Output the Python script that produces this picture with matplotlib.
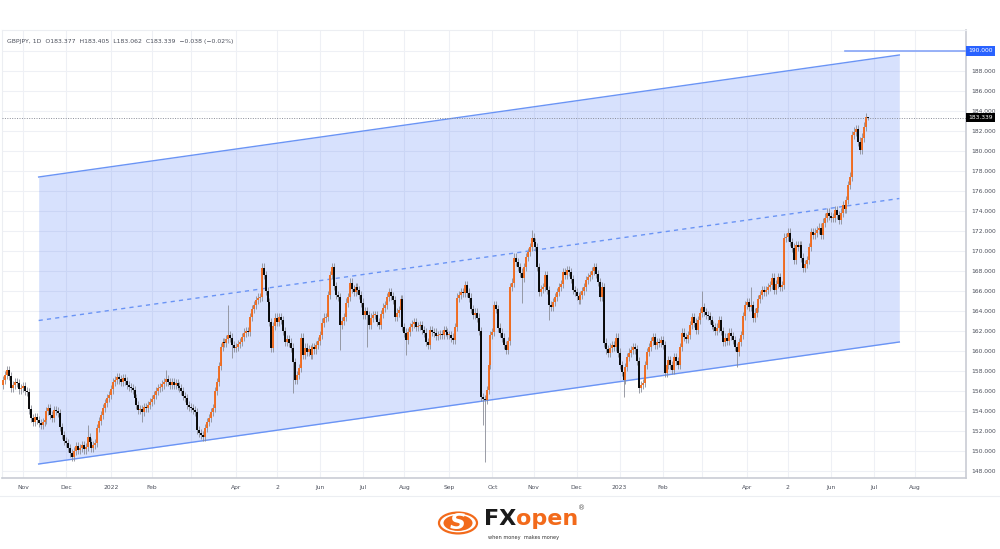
import numpy as np
import pandas as pd
import matplotlib
matplotlib.use("Agg")
import matplotlib.pyplot as plt
from matplotlib.patches import Circle

# Données (GBPJPY, bougies journalières)
first_day = "2021-10-18"
first_open = 156.6
closes = [
    157.1, 157.6, 158.1, 157.5, 156.3, 156.6, 156.9, 156.8, 156.2, 156.3,
    156.5, 156.0, 155.9, 154.2, 153.3, 152.9, 153.4, 153.1, 152.8, 152.6,
    152.9, 153.1, 154.0, 154.3, 153.6, 153.3, 154.1, 154.0, 153.8, 152.4,
    151.6, 151.0, 150.8, 150.3, 149.8, 149.4, 150.0, 150.5, 150.1, 150.3,
    150.6, 150.2, 150.4, 151.4, 150.9, 150.3, 150.6, 150.8, 152.3, 153.0,
    153.6, 154.3, 154.8, 155.3, 155.6, 156.2, 156.9, 157.1, 157.4, 157.2,
    156.9, 157.3, 157.0, 156.6, 156.4, 156.3, 156.1, 155.3, 154.6, 154.1,
    154.2, 153.9, 154.4, 154.3, 154.6, 154.9, 155.2, 155.6, 156.0, 156.3,
    156.4, 156.7, 156.9, 157.2, 156.9, 156.6, 156.9, 156.6, 156.8, 156.5,
    156.3, 156.0, 155.5, 155.3, 154.6, 154.4, 154.3, 154.1, 153.9, 152.1,
    151.8, 151.6, 151.4, 152.3, 152.9, 153.3, 153.9, 154.3, 156.0, 156.9,
    158.5, 160.4, 160.9, 160.8, 161.2, 161.6, 161.3, 160.6, 160.3, 160.4,
    160.7, 160.9, 161.4, 161.8, 162.0, 161.9, 163.4, 164.2, 164.6, 165.1,
    165.3, 165.4, 168.3, 167.6, 166.0, 164.9, 162.9, 160.3, 162.5, 163.3,
    162.9, 163.4, 163.1, 162.0, 160.9, 161.2, 160.8, 160.3, 158.9, 157.1,
    157.6, 158.3, 161.3, 159.6, 160.3, 159.9, 160.2, 159.6, 160.4, 160.2,
    160.6, 161.0, 161.6, 162.8, 163.3, 163.4, 165.6, 167.6, 168.4, 166.5,
    165.6, 165.4, 162.6, 163.0, 163.4, 164.8, 165.4, 166.8, 166.2, 165.9,
    166.4, 166.1, 165.6, 164.8, 163.6, 164.0, 163.6, 162.6, 163.3, 163.6,
    163.6, 162.9, 162.6, 163.7, 164.3, 164.6, 165.4, 165.9, 165.5, 165.1,
    163.4, 163.8, 164.1, 165.2, 162.4, 161.8, 161.1, 161.9, 162.4, 162.7,
    162.9, 162.4, 162.5, 162.6, 162.1, 161.8, 160.9, 160.6, 162.1, 161.9,
    161.8, 161.5, 161.6, 161.7, 161.6, 162.1, 161.9, 161.6, 161.6, 161.3,
    161.1, 162.4, 165.3, 165.6, 165.9, 165.8, 166.6, 165.8, 165.3, 164.2,
    163.6, 163.8, 163.3, 162.0, 155.4, 155.2, 155.1, 156.1, 158.6, 161.6,
    161.9, 164.6, 164.2, 162.3, 161.8, 161.3, 160.6, 160.1, 161.0, 166.4,
    166.8, 169.3, 168.9, 168.4, 167.8, 167.3, 168.4, 169.4, 169.9, 170.4,
    171.3, 170.9, 170.4, 168.4, 165.9, 166.2, 166.4, 167.6, 166.1, 164.6,
    164.4, 164.9, 165.4, 165.9, 166.4, 166.7, 167.9, 167.6, 168.1, 167.9,
    167.2, 166.1, 165.9, 165.5, 165.1, 165.6, 166.0, 166.4, 167.1, 167.4,
    167.6, 168.0, 168.4, 167.7, 166.9, 165.4, 166.4, 160.8, 160.2, 159.8,
    160.3, 160.6, 160.4, 161.3, 159.8, 158.6, 157.9, 157.1, 158.4, 159.4,
    159.8, 160.1, 160.4, 160.2, 159.0, 156.3, 156.6, 156.8, 158.6, 159.9,
    160.4, 161.0, 161.4, 160.6, 160.9, 160.8, 161.1, 160.6, 157.8, 158.6,
    159.1, 158.6, 158.1, 159.4, 159.0, 158.6, 160.4, 161.8, 161.4, 161.2,
    161.6, 162.6, 163.4, 162.8, 162.1, 163.1, 163.8, 164.4, 163.9, 163.6,
    163.5, 163.1, 162.6, 162.4, 162.0, 162.3, 163.1, 162.0, 160.9, 161.3,
    161.0, 161.8, 161.5, 161.1, 160.4, 159.9, 160.9, 161.6, 163.5, 164.6,
    164.9, 164.4, 164.6, 163.3, 163.8, 164.3, 165.2, 165.6, 166.1, 165.9,
    166.1, 166.4, 166.6, 167.3, 166.1, 166.7, 167.4, 166.4, 166.6, 171.3,
    171.4, 171.8, 170.9, 170.3, 169.1, 170.6, 170.4, 170.6, 169.3, 168.3,
    168.7, 169.1, 170.4, 171.9, 171.6, 171.8, 172.1, 172.3, 171.6, 172.8,
    173.3, 173.8, 173.5, 173.3, 173.3, 174.1, 173.6, 173.1, 173.8, 174.6,
    174.2, 175.1, 176.6, 177.4, 181.6, 181.9, 182.2, 180.9, 180.1, 181.3,
    182.4, 183.377, 183.339,
]
# Mèches remarquables (indice de bougie -> plus haut / plus bas)
spike_highs = {43: 152.6, 83: 158.1, 115: 164.6, 270: 172.1, 306: 166.9,
               357: 166.0, 382: 166.4, 401: 172.3, 441: 183.8, 442: 183.405}
spike_lows = {71: 152.9, 117: 159.3, 148: 155.8, 172: 160.1, 186: 160.4,
              206: 159.6, 245: 152.6, 246: 148.9, 265: 164.8, 279: 163.1,
              317: 155.4, 325: 155.8, 375: 158.4, 442: 183.062}

# Canal tracé
channel_dates = ["2021-11-11", "2023-07-20"]
channel_upper = [177.4, 189.6]
channel_lower = [148.7, 160.9]

last_price = 183.339
level_price = 190.0
level_start = "2023-06-12"

tick_dates = ["2021-11-01", "2021-12-01", "2022-01-03", "2022-02-01", "2022-03-01",
              "2022-04-01", "2022-05-02", "2022-06-01", "2022-07-01", "2022-08-01",
              "2022-09-01", "2022-10-03", "2022-11-01", "2022-12-01", "2023-01-02",
              "2023-02-01", "2023-03-01", "2023-04-03", "2023-05-02", "2023-06-01",
              "2023-07-03", "2023-08-01"]
tick_labels = ["Nov", "Dec", "2022", "Feb", "", "Apr", "2", "Jun", "Jul", "Aug",
               "Sep", "Oct", "Nov", "Dec", "2023", "Feb", "", "Apr", "2", "Jun",
               "Jul", "Aug"]

UP = "#f26a1b"
DOWN = "#000000"
WICK = "#8a8d97"
BLUE = "#6a94f5"

dates = pd.bdate_range(first_day, periods=520)
def to_x(d):
    return dates.get_indexer(pd.to_datetime(d))

closes = np.array(closes)
opens = np.concatenate([[first_open], closes[:-1]])
x = np.arange(len(closes))
wick_pad = 0.45
highs = np.maximum(opens, closes) + wick_pad
lows = np.minimum(opens, closes) - wick_pad
for i, v in spike_highs.items():
    highs[i] = v
for i, v in spike_lows.items():
    lows[i] = v

fig = plt.figure(figsize=(10, 5.49), dpi=100)
ax = fig.add_axes([0.002, 1 - 478 / 549, 0.964, 448 / 549])
ax.set_xlim(-0.74, 492.1)
ax.set_ylim(147.3, 192.1)

# Grille
for t in to_x(tick_dates):
    ax.axvline(t, color="#eef0f5", lw=0.8, zorder=0)
for v in np.arange(148, 192, 2):
    ax.axhline(v, color="#eef0f5", lw=0.8, zorder=0)

# Canal
cx = to_x(channel_dates)
ax.fill_between(cx, channel_lower, channel_upper, color="#3b6cf6", alpha=0.2,
                lw=0, zorder=1)
ax.plot(cx, channel_upper, color=BLUE, lw=1, zorder=2)
ax.plot(cx, channel_lower, color=BLUE, lw=1, zorder=2)
ax.plot(cx, [(a + b) / 2 for a, b in zip(channel_upper, channel_lower)],
        color=BLUE, lw=1, ls=(0, (3, 3)), zorder=2)

# Bougies
up = closes >= opens
ax.vlines(x, lows, highs, color=WICK, lw=0.6, zorder=3)
bottoms = np.minimum(opens, closes)
tops = np.maximum(np.maximum(opens, closes), bottoms + 0.08)
ax.vlines(x, bottoms, tops, colors=np.where(up, UP, DOWN), lw=1.35, zorder=4)

# Niveaux
ax.axhline(last_price, color="#8a8d97", lw=0.7, ls=(0, (1, 1.5)), zorder=5)
ax.plot([to_x([level_start])[0], 492.1], [level_price, level_price],
        color="#86a5f7", lw=1.2, zorder=5)

ytr = ax.get_yaxis_transform()
ax.text(1.002, level_price, f"{level_price:.3f}", transform=ytr, ha="left",
        va="center", color="white", fontsize=4.3, zorder=10, clip_on=False,
        bbox=dict(boxstyle="square,pad=0.35", fc="#2962ff", ec="none"))
ax.text(1.002, last_price, f"{last_price:.3f}", transform=ytr, ha="left",
        va="center", color="white", fontsize=4.3, zorder=10, clip_on=False,
        bbox=dict(boxstyle="square,pad=0.35", fc="black", ec="none"))

# Axes
ax.yaxis.tick_right()
yt = np.arange(148, 190, 2)
ax.set_yticks(yt)
ax.set_yticklabels([f"{v:.3f}" for v in yt])
ax.set_xticks(to_x(tick_dates))
ax.set_xticklabels(tick_labels)
ax.tick_params(length=0, labelsize=4.3, colors="#4a4e5a")
ax.tick_params(axis="y", pad=4)
ax.tick_params(axis="x", pad=5)
for s in ["top", "left"]:
    ax.spines[s].set_color("#eceef2")
for s in ["right", "bottom"]:
    ax.spines[s].set_color("#c9ccd4")
    ax.spines[s].set_linewidth(1.2)

fig.text(0.007, 1 - 41 / 549,
         "GBPJPY, 1D  O183.377  H183.405  L183.062  C183.339  \u22120.038 (\u22120.02%)",
         fontsize=4.4, color="#4a4e5a", va="center")

# Séparation et logo
fig.add_artist(plt.Line2D([0, 1], [1 - 496 / 549] * 2, color="#eceef2", lw=0.8))
W, H = 1000, 549
ring = Circle((458 / W, 1 - 523 / H), 19 / W, transform=fig.transFigure,
              fill=False, ec=UP, lw=1.6)
inner = Circle((458 / W, 1 - 523 / H), 14.5 / W, transform=fig.transFigure,
               fc=UP, ec="none")
fig.add_artist(ring)
fig.add_artist(inner)
fig.text(458 / W, 1 - 523 / H, "S", fontsize=16, fontweight="bold", color="white",
         ha="center", va="center", fontstyle="italic")
fx = fig.text(484 / W, 1 - 519 / H, "FX", fontsize=16, fontweight="bold",
              color="#1a1a1a", va="center")
fig.canvas.draw()
bb = fx.get_window_extent()
fig.text(bb.x1 / W, 1 - 519 / H, "open", fontsize=16, fontweight="bold",
         color=UP, va="center")
fig.text(578 / W, 1 - 508 / H, "\u00ae", fontsize=5, color="#555555", va="center")
fig.text(488 / W, 1 - 537 / H, "when money  makes money", fontsize=3.6,
         color="#333333", va="center")

fig.savefig("out.png", dpi=100, facecolor="white")
